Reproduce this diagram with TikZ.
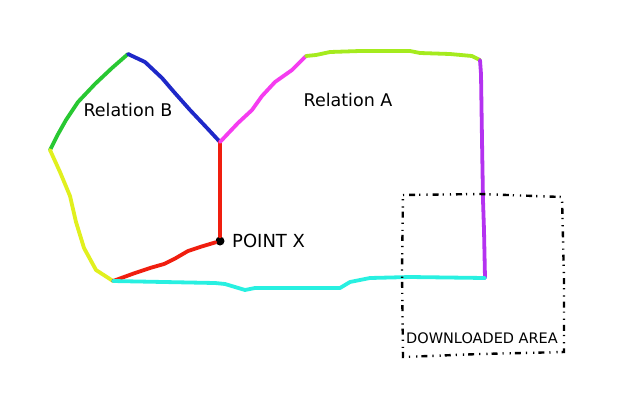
\documentclass[tikz,border=0pt]{standalone}
\usepackage{fontspec}
\setmainfont{DejaVu Sans}
\definecolor{rgreen}{RGB}{40,200,50}
\definecolor{ryellow}{RGB}{225,240,30}
\definecolor{rblue}{RGB}{30,40,200}
\definecolor{rred}{RGB}{240,30,15}
\definecolor{rmagenta}{RGB}{245,60,240}
\definecolor{rlime}{RGB}{165,235,30}
\definecolor{rviolet}{RGB}{180,50,240}
\definecolor{rcyan}{RGB}{40,240,225}
\begin{document}
\begin{tikzpicture}[x=1pt,y=-1pt,
  road/.style={line width=3.8pt,line cap=round,line join=round},
  lbl/.style={font=\fontsize{17.5}{20}\selectfont,inner sep=0pt},
  areabox/.style={line width=2.4pt,dash pattern=on 1.2pt off 5pt on 6pt off 4pt on 1.2pt off 6pt}]
\useasboundingbox (0,0) rectangle (640,400);
\fill[white] (0,0) rectangle (640,400);
% junctions
\coordinate (top) at (128,54);
\coordinate (west) at (50,150);
\coordinate (sw) at (113,281);
\coordinate (mid) at (220,142);
\coordinate (ne1) at (306,56);
\coordinate (ne2) at (480,60);
\coordinate (se) at (485,278);
\node[circle,fill=black,inner sep=0pt,minimum size=9pt] (x) at (220,241) {};
% roads
\draw[road,rgreen] (top) -- (112,68) -- (95,84) -- (78,102) -- (66,120) -- (57,136) -- (west);
\draw[road,ryellow] (west) -- (60,172) -- (70,196) -- (76,222) -- (84,248) -- (96,270) -- (sw);
\draw[road,rblue] (top) -- (145,62) -- (162,78) -- (174,92) -- (190,110) -- (207,128) -- (mid);
\draw[road,rred] (mid) -- (x);
\draw[road,rred] (x) -- (200,247) -- (188,251) -- (176,258) -- (164,264) -- (150,268) -- (135,273) -- (sw);
\draw[road,rmagenta] (mid) -- (238,123) -- (252,110) -- (262,96) -- (275,82) -- (292,70) -- (ne1);
\draw[road,rlime] (ne1) -- (316,55) -- (330,52) -- (360,51) -- (410,51) -- (420,53) -- (450,54) -- (472,56) -- (ne2);
\draw[road,rviolet] (ne2) -- (481,74) -- (482,140) -- (483,200) -- (484,230) -- (se);
\draw[road,rcyan] (sw) -- (215,283) -- (225,284) -- (245,290) -- (255,288) -- (340,288) -- (350,282) -- (370,278) -- (410,277) -- (se);
% labels
\node[lbl] (rb) at (128,110) {Relation B};
\node[lbl] (ra) at (348,100) {Relation A};
\node[lbl,font=\fontsize{18}{20}\selectfont,anchor=west] (px) at (232,241) {POINT X};
% downloaded area
\draw[areabox] (403,195) -- (480,194) -- (562,197) -- (564,280) -- (564,352) -- (480,354) -- (403,357) -- (402,270) -- cycle;
\node[font=\fontsize{14.5}{16}\selectfont,inner sep=0pt] (da) at (482,338) {DOWNLOADED AREA};
\end{tikzpicture}
\end{document}
